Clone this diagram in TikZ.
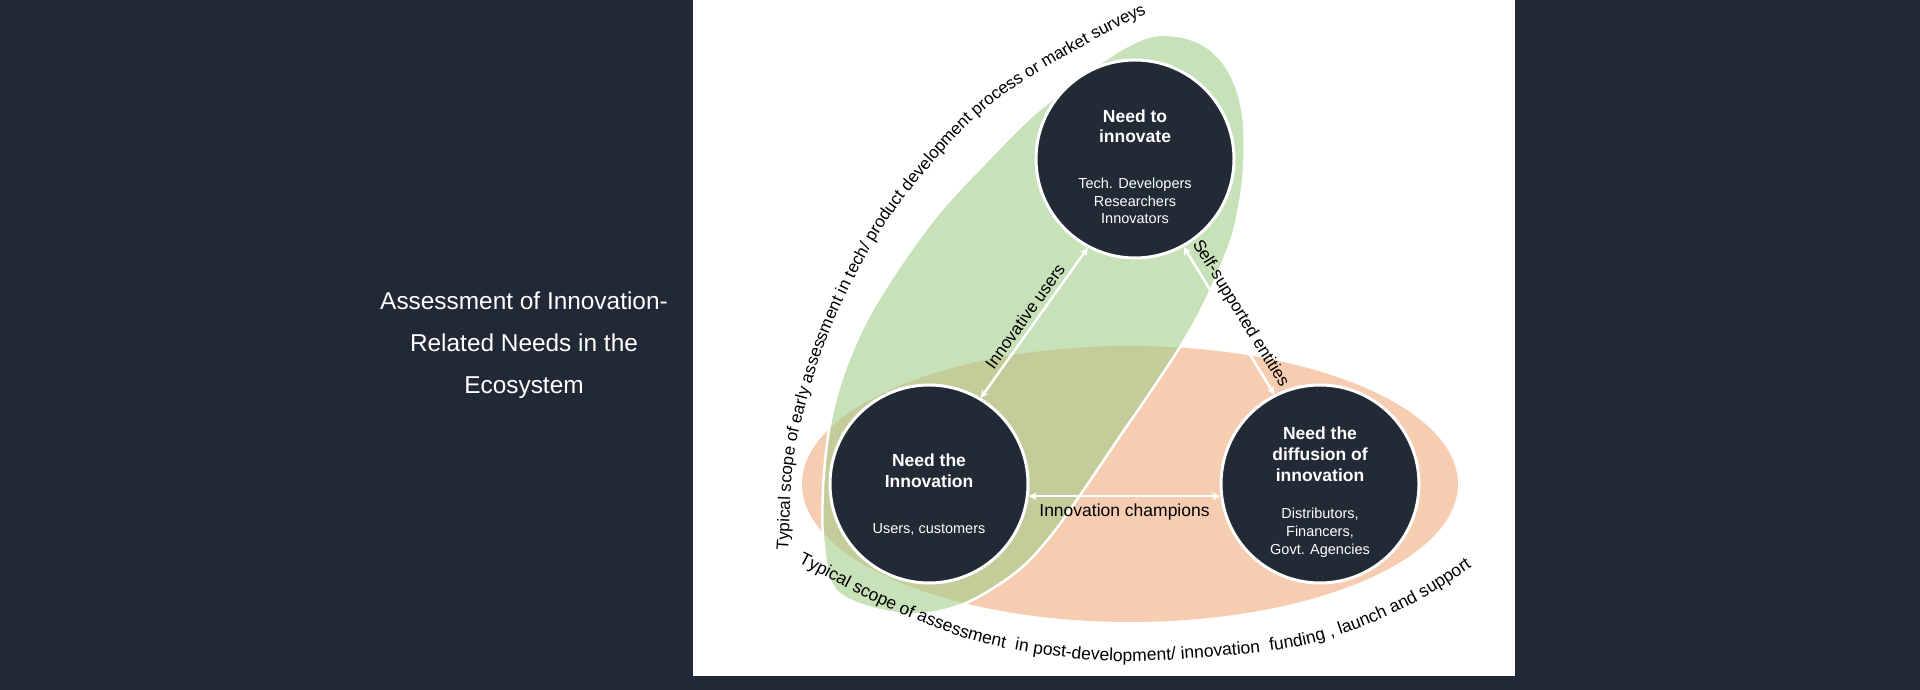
\documentclass[tikz,border=0pt]{standalone}
\usepackage{fontspec}
\setmainfont{Liberation Sans}
\usetikzlibrary{arrows.meta,decorations.text}
\definecolor{bgdark}{HTML}{222936}
\definecolor{circdark}{HTML}{222A36}
\definecolor{greenfill}{HTML}{A3CD8A}
\definecolor{orangefill}{HTML}{F7CDB2}
\begin{document}
\begin{tikzpicture}[x=1pt,y=1pt,
  need/.style={circle, fill=circdark, draw=white, line width=3pt, minimum size=198pt, inner sep=0pt},
  ttl/.style={text=white, font=\bfseries\fontsize{17.5}{20}\selectfont, anchor=base, inner sep=0pt},
  sub/.style={text=white, font=\fontsize{14.5}{17}\selectfont, anchor=base, inner sep=0pt},
  headline/.style={text=white, font=\fontsize{24.4}{28}\selectfont, anchor=base, inner sep=0pt},
  link/.style={white, line width=2.5pt, {Stealth[length=8pt,width=8pt]}-{Stealth[length=8pt,width=8pt]}},
  lbl/.style={font=\fontsize{17}{20}\selectfont, text=black}]
\fill[bgdark] (0,0) rectangle (1920,690);
\useasboundingbox (0,0) rectangle (1920,690);
\fill[white] (693,14) rectangle (1515,690);

% left heading
\node[headline] (h1) at (524,380) {Assessment of Innovation-};
\node[headline] (h2) at (524,338) {Related Needs in the};
\node[headline] (h3) at (524,296.5) {Ecosystem};

% scopes
\fill[orangefill] (1130,206) ellipse [x radius=328, y radius=138];
\filldraw[fill=greenfill, fill opacity=0.6, draw=white, line width=2.5pt]
  plot[smooth cycle, tension=0.55] coordinates {
  (1151.5,654) (1180.1,653.7) (1204.3,644.8) (1223.3,627.3) (1236.7,602) (1243.8,569.4)
  (1244.5,530.7) (1241.7,497.8) (1233,455.2)
  (1218,416.5) (1200,377.8) (1180,343) (1146.7,292.6) (1120,253.8) (1083.3,199.6)
  (1050,153.1) (1016.7,118.3) (966.7,87.3) (916.7,75.7) (866.7,83.4) (833.3,102.8)
  (823.3,149.3) (823.3,207.3) (830,265.4) (843.3,315.8) (866.7,370) (900,424.2)
  (940,478.5) (986.7,528.8) (1033.3,575.3) (1083.3,614) (1120,640)};
\path[decorate, decoration={text along path, text={|\fontsize{17}{17}\selectfont|Typical scope of early assessment in tech/ product development process or market surveys}}]
  (788,139) to[out=86,in=256] (800,264) to[out=76,in=242] (861,425.2) to[out=62,in=229] (943.5,539.5) to[out=49,in=210] (1077,640.5) to[out=30,in=207] (1190,698);
\path[decorate, decoration={text along path, text={|\fontsize{17.5}{17.5}\selectfont|Typical scope of assessment {\ }in post-development/ innovation {\ }funding , launch and support}}]
  (798,127.5) to[out=-27,in=156] (887.5,82.6) to[out=-24,in=171] (1031.6,37.1) to[out=-9,in=185] (1221.3,34) to[out=5,in=202] (1365.2,64.5) to[out=22,in=214] (1476,126) to[out=34,in=217] (1505,148);

% circles
\node[need] (T) at (1135,531) {};
\node[need] (L) at (929,206) {};
\node[need] (R) at (1320,206) {};

\node[ttl] (t1) at (1135,567) {Need to};
\node[ttl] (t2) at (1135,547) {innovate};
\node[sub] (t3) at (1135,501) {Tech. Developers};
\node[sub] (t4) at (1135,483) {Researchers};
\node[sub] (t5) at (1135,466) {Innovators};

\node[ttl] (l1) at (929,223) {Need the};
\node[ttl] (l2) at (929,202) {Innovation};
\node[sub] (l3) at (929,156) {Users, customers};

\node[ttl] (r1) at (1320,250) {Need the};
\node[ttl] (r2) at (1320,229) {diffusion of};
\node[ttl] (r3) at (1320,208) {innovation};
\node[sub] (r4) at (1320,171) {Distributors,};
\node[sub] (r5) at (1320,153) {Financers,};
\node[sub] (r6) at (1320,135) {Govt. Agencies};

% links
\draw[link] (L.59) -- node[lbl, sloped, above, inner sep=4pt] (lu) {Innovative users} (T.242);
\draw[link] (T.299) -- node[lbl, sloped, above, inner sep=4pt] (ls) {Self-supported entities} (R.117);
\draw[link] (L.-7) -- node[lbl, font=\fontsize{17.5}{20}\selectfont, below=4pt, inner sep=2pt] (lc) {Innovation champions} (R.187);
\end{tikzpicture}
\end{document}
